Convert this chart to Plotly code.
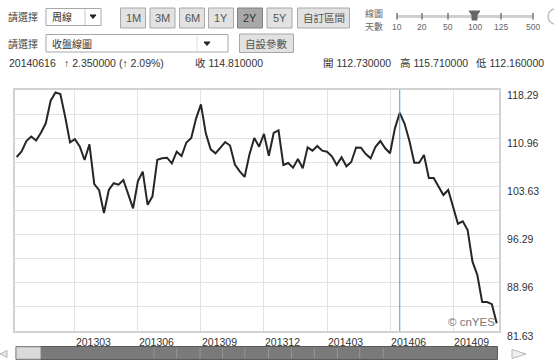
import pandas as pd
import plotly.graph_objects as go

# ---------------- data ----------------
weeks = pd.date_range("2012-12-10", periods=100, freq="7D").strftime("%Y-%m-%d").tolist()
close = [108.10, 108.93, 110.53, 111.22, 110.61, 111.79, 113.22, 116.66, 117.91, 117.68,
         114.23, 110.33, 110.81, 109.70, 107.64, 110.03, 103.99, 103.05, 99.58, 103.08,
         104.10, 103.88, 104.60, 102.58, 100.29, 104.45, 105.86, 100.83, 102.12, 107.69,
         107.90, 107.99, 107.14, 108.90, 108.25, 110.30, 110.99, 113.98, 116.11, 111.70,
         109.27, 108.66, 109.47, 110.38, 109.85, 106.96, 105.92, 105.06, 108.48, 110.99,
         109.66, 111.60, 108.28, 111.75, 112.16, 106.88, 107.19, 106.47, 107.79, 106.38,
         109.57, 109.06, 109.77, 109.06, 108.90, 108.20, 106.88, 108.05, 106.68, 107.34,
         109.54, 109.51, 108.55, 107.90, 109.66, 110.53, 109.42, 108.66, 112.46, 114.81,
         113.15, 110.53, 107.23, 107.23, 108.40, 104.90, 104.90, 103.58, 102.32, 103.08,
         100.67, 97.95, 98.32, 96.99, 92.17, 90.15, 86.04, 86.04, 85.71, 82.80]
x_tick_weeks = ["2013-03-04", "2013-06-03", "2013-09-02", "2013-12-02",
                "2014-03-03", "2014-06-02", "2014-09-01"]
x_tick_text = ["201303", "201306", "201309", "201312", "201403", "201406", "201409"]
y_grid = [81.63, 85.30, 88.96, 92.63, 96.29, 99.96, 103.63, 107.29, 110.96, 114.62, 118.29]
y_tick_text = ["81.63", "", "88.96", "", "96.29", "", "103.63", "", "110.96", "", "118.29"]
selected_week = "2014-06-16"
header_info = ["20140616", "\u2191 2.350000 (\u2191 2.09%)", "收 114.810000",
               "開 112.730000", "高 115.710000", "低 112.160000"]
period_buttons = ["1M", "3M", "6M", "1Y", "2Y", "5Y"]
slider_labels = ["10", "20", "50", "100", "125", "500"]

# ---------------- geometry helpers (pixel -> paper) ----------------
WID, HEI = 554, 361
L, R, T, B = 15, 499, 90, 331
PW, PH = R - L, B - T


def X(px):
    return (px - L) / PW


def Y(py):
    return (B - py) / PH


FONT = "Liberation Sans, Arial, Noto Sans CJK TC, sans-serif"
CJK = "Noto Sans CJK TC, Liberation Sans, sans-serif"
shapes = []
annotations = []


def rect(x0, y0, x1, y1, fill, line="#a0a0a0", lw=1):
    shapes.append(dict(type="rect", xref="paper", yref="paper", x0=X(x0), x1=X(x1),
                       y0=Y(y1), y1=Y(y0), fillcolor=fill,
                       line=dict(color=line, width=lw), layer="above"))


def hline(x0, x1, y, color, lw=1):
    shapes.append(dict(type="line", xref="paper", yref="paper", x0=X(x0), x1=X(x1),
                       y0=Y(y), y1=Y(y), line=dict(color=color, width=lw)))


def vline(x, y0, y1, color, lw=1):
    shapes.append(dict(type="line", xref="paper", yref="paper", x0=X(x), x1=X(x),
                       y0=Y(y1), y1=Y(y0), line=dict(color=color, width=lw)))


def poly(points, fill, line=None):
    d = "M " + " L ".join(f"{X(a):.5f},{Y(b):.5f}" for a, b in points) + " Z"
    shapes.append(dict(type="path", xref="paper", yref="paper", path=d, fillcolor=fill,
                       line=dict(color=line or fill, width=1)))


def text(px, py, s, size=11, color="#333333", anchor="left", family=FONT):
    annotations.append(dict(xref="paper", yref="paper", x=X(px), y=Y(py), text=s,
                            showarrow=False, xanchor=anchor, yanchor="middle",
                            font=dict(size=size, color=color, family=family)))


# ---------------- header controls ----------------
# row 1
text(6, 16.5, "請選擇", size=10, color="#444444", family=CJK)
rect(46, 8.5, 101, 25.5, "#ffffff", "#a8a8a8")
vline(85, 9, 25, "#c8c8c8")
text(50, 16.5, "周線", size=10, color="#333333", family=CJK)
poly([(90, 15), (96, 15), (93, 18.5)], "#222222")
btn_centers = [133, 162.5, 192, 221, 250, 279.5]
for lab, cx in zip(period_buttons, btn_centers):
    pressed = lab == "2Y"
    rect(cx - 12.5, 8, cx + 12.5, 28, "#a8a8a8" if pressed else "#e2e2e2",
         "#808080" if pressed else "#a8a8a8")
    text(cx, 18, lab, size=11, color="#333333" if pressed else "#555555", anchor="center")
rect(297.5, 8, 349.5, 28, "#e2e2e2", "#a8a8a8")
text(323.5, 18, "自訂區間", size=10.5, color="#555555", anchor="center", family=CJK)

# slider
text(363, 13.5, "線圖", size=9, color="#666666", family=CJK)
text(363, 26.5, "天數", size=9, color="#666666", family=CJK)
slider_x = [397, 422, 448, 474.5, 501, 533]
hline(397, 533, 16.5, "#cfcfcf", 3)
for sx, lab in zip(slider_x, slider_labels):
    vline(sx, 13, 19.5, "#777777", 1.5)
    text(sx, 26.5, lab, size=8.5, color="#666666", anchor="center")
poly([(469, 11), (480, 11), (477, 15), (477, 20), (472, 20), (472, 15)], "#666666")
shapes.append(dict(type="circle", xref="paper", yref="paper", x0=X(548), x1=X(562),
                   y0=Y(24), y1=Y(9), line=dict(color="#c0c0c0", width=1.5)))

# row 2
text(6, 43.5, "請選擇", size=10, color="#444444", family=CJK)
rect(46, 34.5, 228, 52, "#ffffff", "#a8a8a8")
vline(197, 35, 51.5, "#dddddd")
text(50, 43.5, "收盤線圖", size=10, color="#333333", family=CJK)
poly([(204, 42), (210, 42), (207, 45.5)], "#222222")
rect(239.5, 34, 293.5, 52.5, "#e2e2e2", "#a8a8a8")
text(266.5, 43.5, "自設參數", size=10.5, color="#555555", anchor="center", family=CJK)

# row 3 (quote line)
info_x = [6.5, 61.5, 193, 320.5, 398, 474]
for ix, s in zip(info_x, header_info):
    text(ix, 63.5, s, size=10.5, color="#333333")

# watermark
text(496.5, 321.5, "\u00a9 cnYES", size=11.5, color="#777777", anchor="right")

# ---------------- bottom scrollbar ----------------
poly([(0, 354), (7, 350.5), (7, 357.5)], "#e6e6e6", "#b8b8b8")
poly([(526, 354), (512, 349.5), (512, 358.5)], "#f0f0f0", "#b8b8b8")
rect(16, 346.5, 497.5, 359.5, "#7a7a7a", "#5a5a5a")
for sx in [154, 176.7, 200, 222.6, 244.8, 268.5, 291.5, 314.4, 337.4, 359.7, 383.3]:
    vline(sx, 347.5, 358.5, "#959595")
rect(16.5, 347, 40.5, 359, "#dadada", "#b0b0b0")

# ---------------- chart ----------------
fig = go.Figure()
fig.add_trace(go.Scatter(x=weeks, y=close, mode="lines",
                         line=dict(color="#262626", width=2), hoverinfo="x+y"))

shapes.append(dict(type="line", xref="x", yref="paper", x0=selected_week, x1=selected_week,
                   y0=0, y1=1, line=dict(color="#3aa8c8", width=1), layer="above"))

fig.update_layout(
    width=WID, height=HEI,
    margin=dict(l=L, r=WID - R, t=T, b=HEI - B),
    paper_bgcolor="#ffffff", plot_bgcolor="#ffffff",
    showlegend=False,
    font=dict(family=FONT, size=10.5, color="#333333"),
    shapes=shapes, annotations=annotations,
    xaxis=dict(type="category", range=[-0.35, 99.47], tickmode="array",
               tickvals=x_tick_weeks, ticktext=x_tick_text,
               ticklabelposition="outside right", ticks="",
               showgrid=True, gridcolor="#e2e2e2", gridwidth=1,
               showline=True, mirror=True, linecolor="#d2d2d2", linewidth=2,
               tickfont=dict(size=10.5, color="#333333"), zeroline=False),
    yaxis=dict(side="right", range=[81.63, 118.29], tickmode="array",
               tickvals=y_grid, ticktext=y_tick_text, ticks="",
               ticklabelshift=5, ticklabelstandoff=4,
               showgrid=True, gridcolor="#e2e2e2", gridwidth=1,
               showline=True, mirror=True, linecolor="#d2d2d2", linewidth=2,
               tickfont=dict(size=10.5, color="#333333"), zeroline=False),
)

fig.write_html("out.html")
